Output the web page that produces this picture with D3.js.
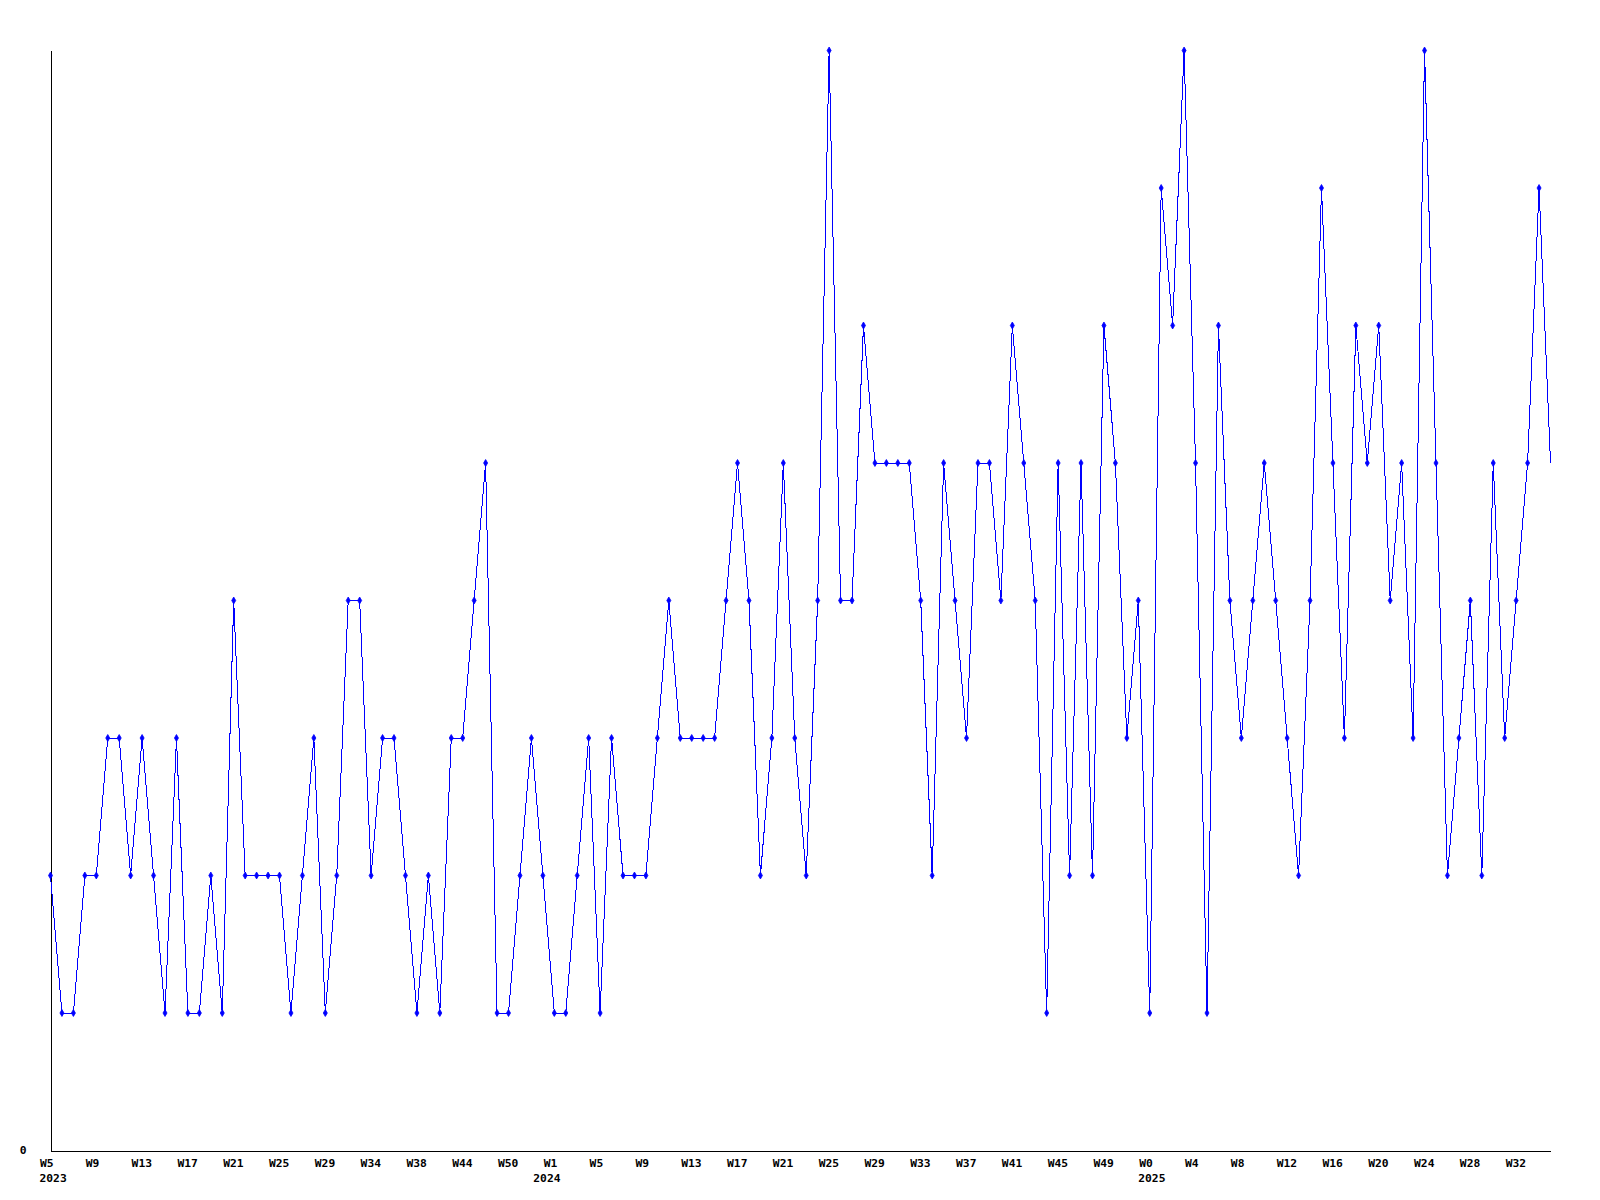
<!DOCTYPE html>
<html>
<head>
<meta charset="utf-8">
<script src="https://cdn.jsdelivr.net/npm/d3@7"></script>
<style>
  html, body { margin: 0; padding: 0; background: #fff; }
  svg { display: block; }
  text { font-family: "DejaVu Sans Mono", "Liberation Mono", monospace; font-weight: bold; font-size: 11.3px; fill: #000; }
</style>
</head>
<body>
<svg id="chart" width="1600" height="1200"></svg>
<script>
// Weekly counts, one per week starting at 2023 W5
const values = [
  2,1,1,2,2,3,3,2,3,2,
  1,3,1,1,2,1,4,2,2,2,
  2,1,2,3,1,2,4,4,2,3,
  3,2,1,2,1,3,3,4,5,1,
  1,2,3,2,1,1,2,3,1,3,
  2,2,2,3,4,3,3,3,3,4,
  5,4,2,3,5,3,2,4,8,4,
  4,6,5,5,5,5,4,2,5,4,
  3,5,5,4,6,5,4,1,5,2,
  5,2,6,5,3,4,1,7,6,8,
  5,1,6,4,3,4,5,4,3,2,
  4,7,5,3,6,5,6,4,5,3,
  8,5,2,3,4,2,5,3,4,5,
  7,5
];
// Tick labels (every 4th week)
const weekLabels = [
  "W5","W9","W13","W17","W21","W25","W29","W34","W38","W44","W50",
  "W1","W5","W9","W13","W17","W21","W25","W29","W33","W37","W41","W45","W49",
  "W0","W4","W8","W12","W16","W20","W24","W28","W32"
];
const yearLabels = ["2023","2024","2025"];
const yearTickIndex = [0, 11, 24];   // which week label each year sits under
const yTicks = [0];

const svg = d3.select("#chart");
const n = values.length;
const x = d3.scaleLinear().domain([0, n - 1]).range([50.5, 1550.5]);
const y = d3.scaleLinear().domain([0, 8]).range([1150.5, 50.5]);

// Axes
const xAxis = d3.axisBottom(x)
  .tickValues(weekLabels.map((_, i) => i * 4))
  .tickFormat((d) => weekLabels[d / 4])
  .tickSize(0).tickSizeOuter(0).tickPadding(0);
const gx = svg.append("g").attr("transform", `translate(0,${y(0)})`).call(xAxis);
gx.attr("font-family", null).attr("font-size", null);
gx.select(".domain").attr("stroke", "#000").attr("shape-rendering", "crispEdges");
gx.selectAll(".tick text")
  .attr("text-anchor", "start")
  .attr("dx", -11)
  .attr("y", 16).attr("dy", 0);

// Year labels under selected ticks
const yearOffsets = [-11, -21, -11.5];
svg.append("g").selectAll("text").data(yearLabels).join("text")
  .attr("x", (d, i) => x(yearTickIndex[i] * 4) + yearOffsets[i])
  .attr("y", y(0) + 31)
  .attr("text-anchor", "start")
  .text((d) => d);

const yAxis = d3.axisLeft(y).tickValues(yTicks).tickFormat(d3.format("d"))
  .tickSize(0).tickSizeOuter(0).tickPadding(24);
const gy = svg.append("g").attr("transform", `translate(${x(0)},0)`).call(yAxis);
gy.attr("font-family", null).attr("font-size", null);
gy.select(".domain").attr("stroke", "#000").attr("shape-rendering", "crispEdges");
gy.selectAll(".tick text").attr("dy", 3);

// Line
const line = d3.line().x((d, i) => x(i)).y((d) => y(d));
svg.append("path").datum(values)
  .attr("d", line)
  .attr("fill", "none")
  .attr("stroke", "#0000ff")
  .attr("stroke-width", 1)
  .attr("shape-rendering", "crispEdges");

// Markers (all but the last point)
const diamond = d3.symbol().type(d3.symbolDiamond).size(14);
svg.append("g").selectAll("path").data(values.slice(0, n - 1)).join("path")
  .attr("transform", (d, i) => `translate(${x(i)},${y(d)})`)
  .attr("d", diamond)
  .attr("fill", "#0000ff")
  .attr("stroke", "#0000ff")
  .attr("stroke-width", 0.8);
</script>
</body>
</html>
